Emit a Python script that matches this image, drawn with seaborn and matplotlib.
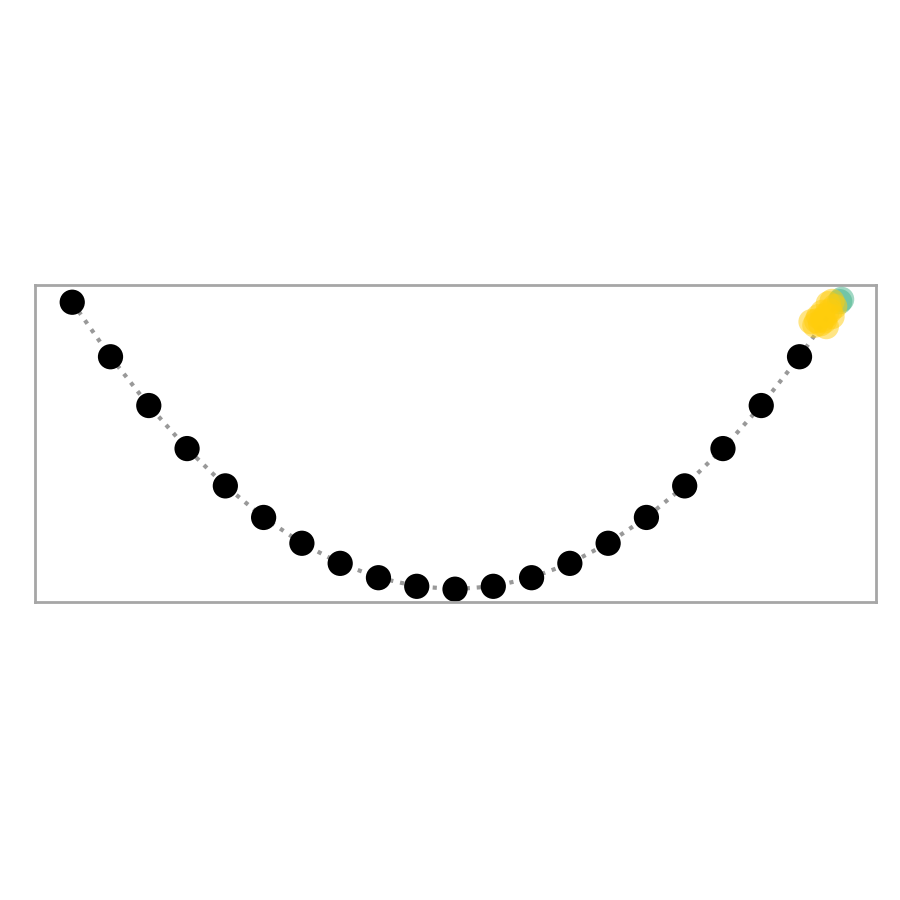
import numpy as np
import pandas as pd
import seaborn as sns
import matplotlib
matplotlib.use('Agg')
import matplotlib.pyplot as plt

# loss curve y = x^2 sampled on integers
curve_x = [-10, -9, -8, -7, -6, -5, -4, -3, -2, -1, 0, 1, 2, 3, 4, 5, 6, 7, 8, 9, 10]
curve_y = [100, 81, 64, 49, 36, 25, 16, 9, 4, 1, 0, 1, 4, 9, 16, 25, 36, 49, 64, 81, 100]

# optimiser steps
step_x = [10.1, 10.05, 9.85, 9.92, 9.80, 9.70, 9.60, 9.45, 9.30, 9.55, 9.70, 9.85,
          9.60, 9.75, 9.50, 9.40, 9.65]
step_y = [101.0, 100.2, 100.3, 98.5, 97.0, 95.5, 94.0, 93.5, 93.2, 92.5, 91.5, 95.0,
          96.5, 99.5, 95.0, 92.0, 93.5]
step_group = ['start', 'start'] + ['step'] * 15

green = '#45b38a'
gold = '#ffcd0c'

curve = pd.DataFrame({'x': curve_x, 'y': curve_y})
# the last curve point sits under the start of the steps
dots = curve.iloc[:-1]
steps = pd.DataFrame({'x': step_x, 'y': step_y, 'group': step_group})

sns.set_style('white')
fig = plt.figure(figsize=(9, 9), dpi=100)
ax = fig.add_axes([0.039, 0.331, 0.934, 0.352])

sns.lineplot(data=curve, x='x', y='y', ax=ax, color='#999999', lw=3,
             linestyle=':', zorder=1)
sns.scatterplot(data=dots, x='x', y='y', ax=ax, color='black', s=330,
                edgecolor='none', zorder=2)
sns.scatterplot(data=steps, x='x', y='y', hue='group', ax=ax,
                palette={'start': green, 'step': gold}, s=330, alpha=0.5,
                edgecolor='none', legend=False, zorder=3)

ax.set_xlim(-10.97, 10.99)
ax.set_ylim(-4.5, 105.9)
ax.set_xticks([])
ax.set_yticks([])
ax.set_xlabel('')
ax.set_ylabel('')
for sp in ax.spines.values():
    sp.set_color('#a6a6a6')
    sp.set_linewidth(2)

fig.savefig('out.png', dpi=100)
